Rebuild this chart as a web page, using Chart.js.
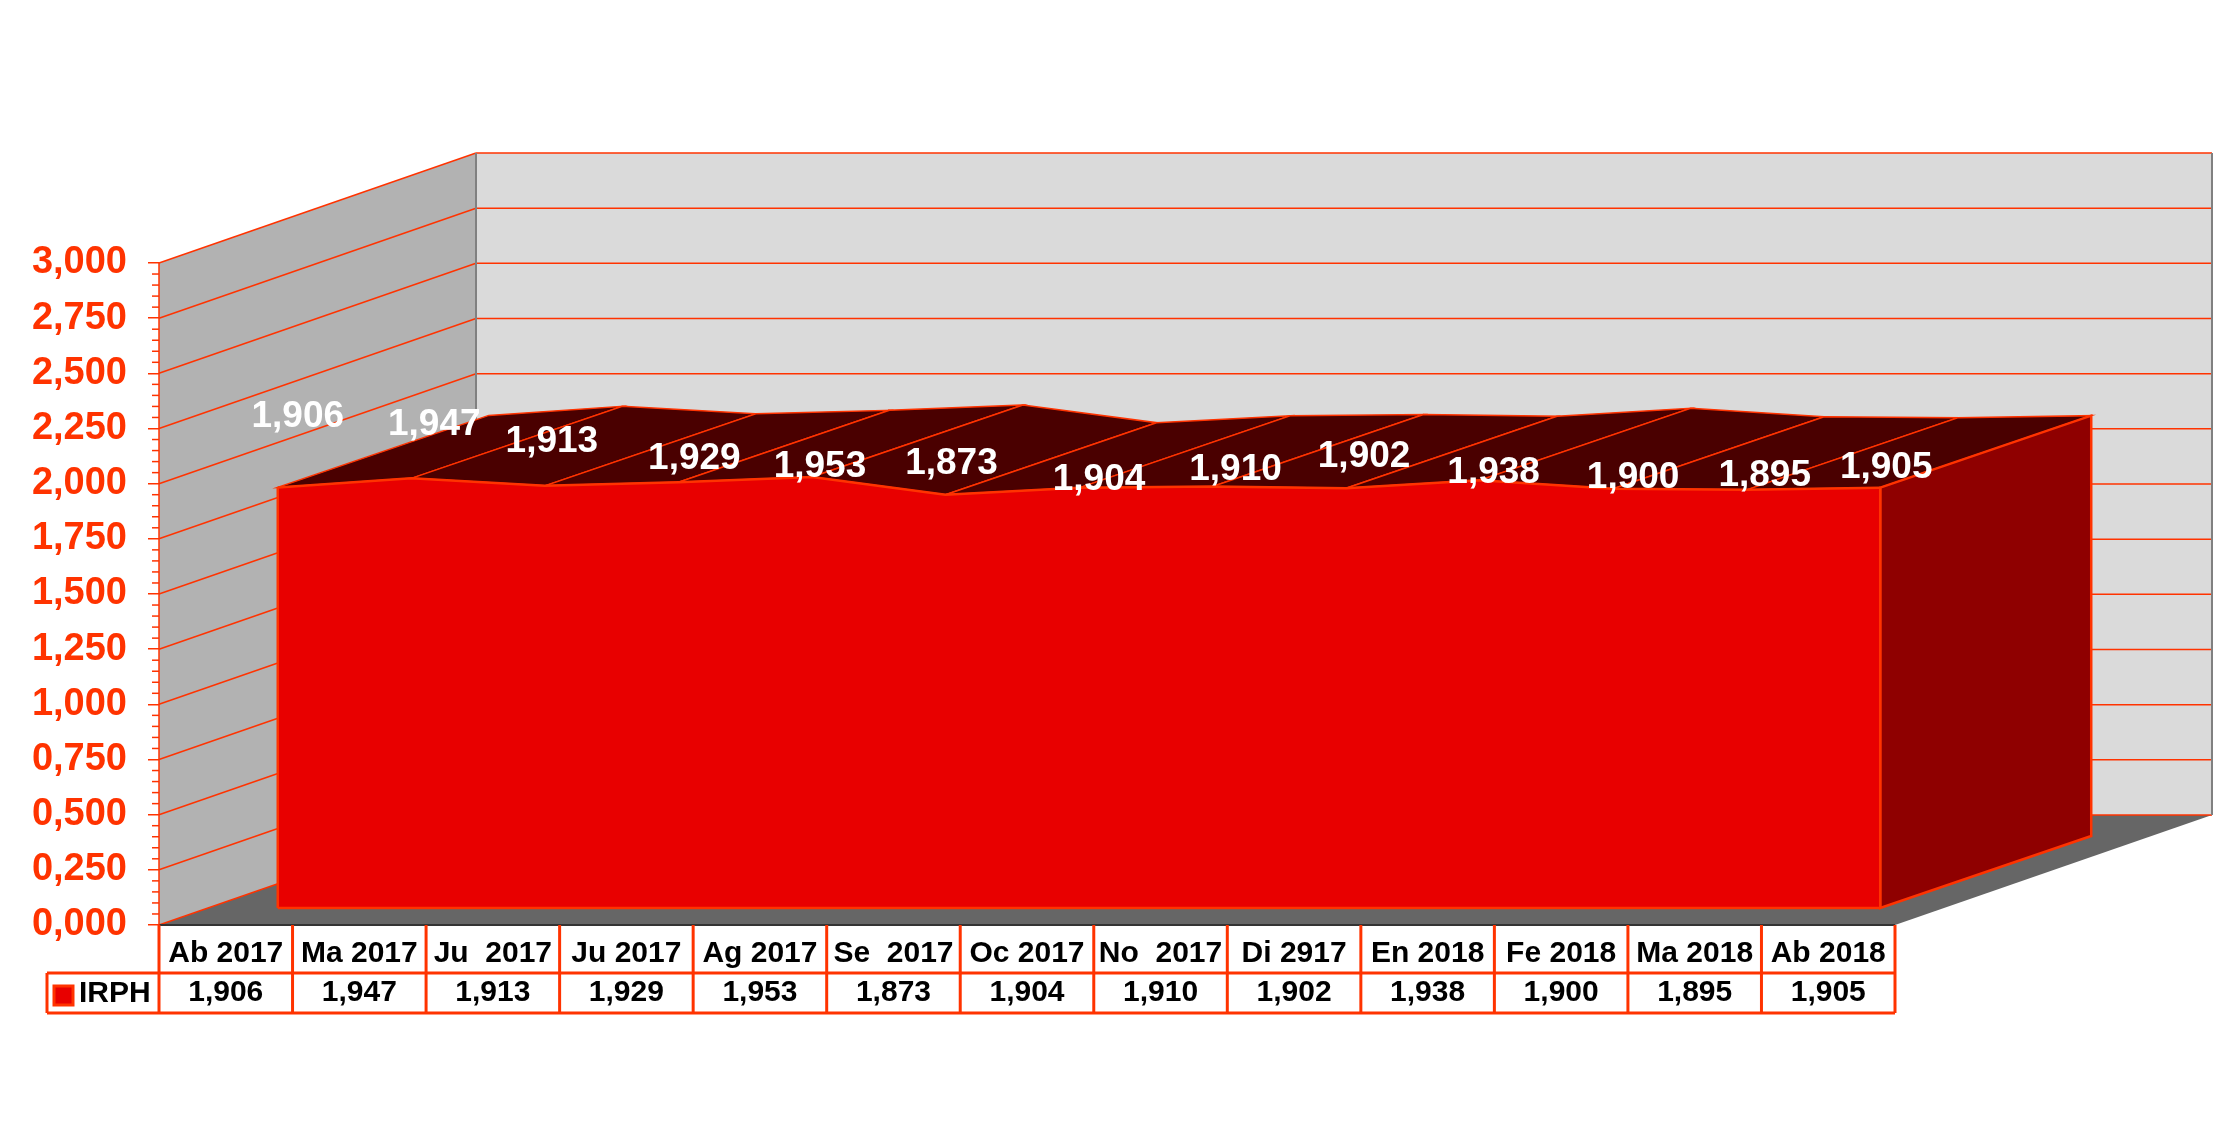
<!DOCTYPE html>
<html>
<head>
<meta charset="utf-8">
<script src="https://cdn.jsdelivr.net/npm/chart.js@4"></script>
<style>
body{margin:0;background:#fff;}
canvas{display:block;}
</style>
</head>
<body>
<canvas id="mychart" width="2221" height="1138"></canvas>
<script>
const categories=['Ab 2017','Ma 2017','Ju  2017','Ju 2017','Ag 2017','Se  2017','Oc 2017','No  2017','Di 2917','En 2018','Fe 2018','Ma 2018','Ab 2018'];
const irph=[1.906,1.947,1.913,1.929,1.953,1.873,1.904,1.910,1.902,1.938,1.900,1.895,1.905];
const seriesName='IRPH';

// label shifts from the front edge of the area, placed by hand in the original
const labelShift=[[20,-71],[23,-54],[7,-44],[16,-24],[8,-10],[6,-31],[20,-8],[23,-17],[18,-31],[14,-8],[20,-11],[18,-14],[6,-20]];

const ORANGE='#ff3300';
const WALL={x:317,y:-110};
const FRONT={x:52,y:-17};
const BACK={x:263,y:-89};
const fmt=v=>v.toFixed(3).replace('.',',');

const poly=(ctx,pts,fill,stroke,width)=>{
    ctx.beginPath();
    pts.forEach((p,i)=>i?ctx.lineTo(p[0],p[1]):ctx.moveTo(p[0],p[1]));
    ctx.closePath();
    if(fill){ctx.fillStyle=fill;ctx.fill();}
    if(stroke){ctx.strokeStyle=stroke;ctx.lineWidth=width||1.5;ctx.stroke();}
};
const line=(ctx,x1,y1,x2,y2,color,width)=>{
    ctx.beginPath();ctx.moveTo(x1,y1);ctx.lineTo(x2,y2);
    ctx.strokeStyle=color;ctx.lineWidth=width;ctx.stroke();
};

const box3d={
    id:'box3d',
    beforeDatasetsDraw(chart){
        const {ctx,chartArea:a,scales:{x,y}}=chart;
        const l=a.left,r=a.right,t=a.top,b=a.bottom;
        ctx.save();
        poly(ctx,[[l+WALL.x,t+WALL.y],[r+WALL.x,t+WALL.y],[r+WALL.x,b+WALL.y],[l+WALL.x,b+WALL.y]],'#dadada');
        poly(ctx,[[l,t],[l+WALL.x,t+WALL.y],[l+WALL.x,b+WALL.y],[l,b]],'#b2b2b2');
        poly(ctx,[[l,b],[l+WALL.x,b+WALL.y],[r+WALL.x,b+WALL.y],[r,b]],'#666666');
        // walls get a line for each labelled step
        y.ticks.forEach(tk=>{
            const py=y.getPixelForValue(tk.value);
            line(ctx,l,py,l+WALL.x,py+WALL.y,ORANGE,1.5);
            line(ctx,l+WALL.x,py+WALL.y,r+WALL.x,py+WALL.y,ORANGE,1.5);
        });
        line(ctx,l+WALL.x,t+WALL.y,l+WALL.x,b+WALL.y,'#808080',2);
        line(ctx,r+WALL.x,t+WALL.y,r+WALL.x,b+WALL.y,'#808080',2);
        line(ctx,l,b,r,b,'#333333',2);
        // short marks between the labelled ones
        for(let i=0;i<=60;i++){
            if(i%5===0)continue;
            const py=y.getPixelForValue(i*0.05);
            line(ctx,l-7,py,l,py,ORANGE,1.5);
        }
        line(ctx,l,t,l,b,ORANGE,1.5);

        // top strip and end side of the area
        const pts=chart.getDatasetMeta(0).data;
        for(let i=0;i<pts.length-1;i++){
            const p=pts[i],q=pts[i+1];
            poly(ctx,[
                [p.x+FRONT.x,p.y+FRONT.y],[q.x+FRONT.x,q.y+FRONT.y],
                [q.x+BACK.x,q.y+BACK.y],[p.x+BACK.x,p.y+BACK.y]
            ],'#4a0000',ORANGE,1.5);
        }
        const e=pts[pts.length-1];
        poly(ctx,[
            [e.x+FRONT.x,e.y+FRONT.y],[e.x+BACK.x,e.y+BACK.y],
            [e.x+BACK.x,b+BACK.y],[e.x+FRONT.x,b+FRONT.y]
        ],'#8f0000',ORANGE,2.5);
        ctx.restore();

        // the area itself is drawn by the chart, moved into the depth of the box
        ctx.save();
        ctx.translate(FRONT.x,FRONT.y);
    },
    afterDatasetsDraw(chart){
        const {ctx,chartArea:a,scales:{x,y}}=chart;
        ctx.restore();
        const pts=chart.getDatasetMeta(0).data;
        const first=pts[0],last=pts[pts.length-1];
        const b=a.bottom+FRONT.y;
        ctx.save();
        line(ctx,first.x+FRONT.x,first.y+FRONT.y,first.x+FRONT.x,b,ORANGE,2.5);
        line(ctx,first.x+FRONT.x,b,last.x+FRONT.x,b,ORANGE,2.5);
        line(ctx,last.x+FRONT.x,last.y+FRONT.y,last.x+FRONT.x,b,ORANGE,2.5);

        ctx.fillStyle='#fff';
        ctx.font='bold 37px "Liberation Sans"';
        ctx.textAlign='center';
        ctx.textBaseline='middle';
        pts.forEach((p,i)=>{
            ctx.fillText(fmt(irph[i]),p.x+FRONT.x+labelShift[i][0],p.y+FRONT.y+labelShift[i][1]);
        });

        // data table below the axis
        const half=(x.getPixelForTick(1)-x.getPixelForTick(0))/2;
        const t0=a.bottom,t1=a.bottom+48,t2=a.bottom+88;
        const keyLeft=47;
        for(let i=0;i<=categories.length;i++){
            const px=a.left+i*half*2;
            line(ctx,px,t0,px,t2,ORANGE,3);
        }
        line(ctx,keyLeft,t1,a.right,t1,ORANGE,3);
        line(ctx,keyLeft,t2,a.right,t2,ORANGE,3);
        line(ctx,keyLeft,t1,keyLeft,t2,ORANGE,3);
        poly(ctx,[[54,t1+13],[73,t1+13],[73,t1+32],[54,t1+32]],'#e80000',ORANGE,3);
        ctx.fillStyle='#000';
        ctx.font='bold 30px "Liberation Sans"';
        ctx.textAlign='left';
        ctx.fillText(seriesName,79,t1+21);
        ctx.restore();
    }
};

const ctx=document.getElementById('mychart').getContext('2d');
let mychart=new Chart(ctx,{
    type:'line',
    data:{
        labels:categories,
        datasets:[{
            label:seriesName,
            data:irph,
            fill:'origin',
            tension:0,
            backgroundColor:'#e80000',
            borderColor:ORANGE,
            borderWidth:2.5,
            pointRadius:0,
            clip:false
        }]
    },
    plugins:[box3d],
    options:{
        responsive:false,
        animation:false,
        devicePixelRatio:1,
        layout:{padding:{top:263,right:326,bottom:0,left:0}},
        plugins:{
            legend:{display:false},
            tooltip:{enabled:false},
            title:{display:false}
        },
        scales:{
            x:{
                offset:true,
                border:{display:false},
                grid:{display:false,drawTicks:false},
                afterFit:s=>{s.height=213;},
                ticks:{
                    autoSkip:false,
                    maxRotation:0,
                    padding:9,
                    color:'#000',
                    font:{family:'"Liberation Sans"',weight:'bold',size:30,lineHeight:1.3},
                    callback:(v,i)=>[categories[i],fmt(irph[i])]
                }
            },
            y:{
                min:0,
                max:3,
                border:{display:false},
                grid:{drawOnChartArea:false,tickColor:ORANGE,tickLength:11,lineWidth:1.5},
                afterFit:s=>{s.width=159;},
                ticks:{
                    stepSize:0.25,
                    padding:21,
                    color:ORANGE,
                    font:{family:'"Liberation Sans"',weight:'bold',size:38},
                    callback:v=>fmt(v)
                }
            }
        }
    }
});
</script>
</body>
</html>
